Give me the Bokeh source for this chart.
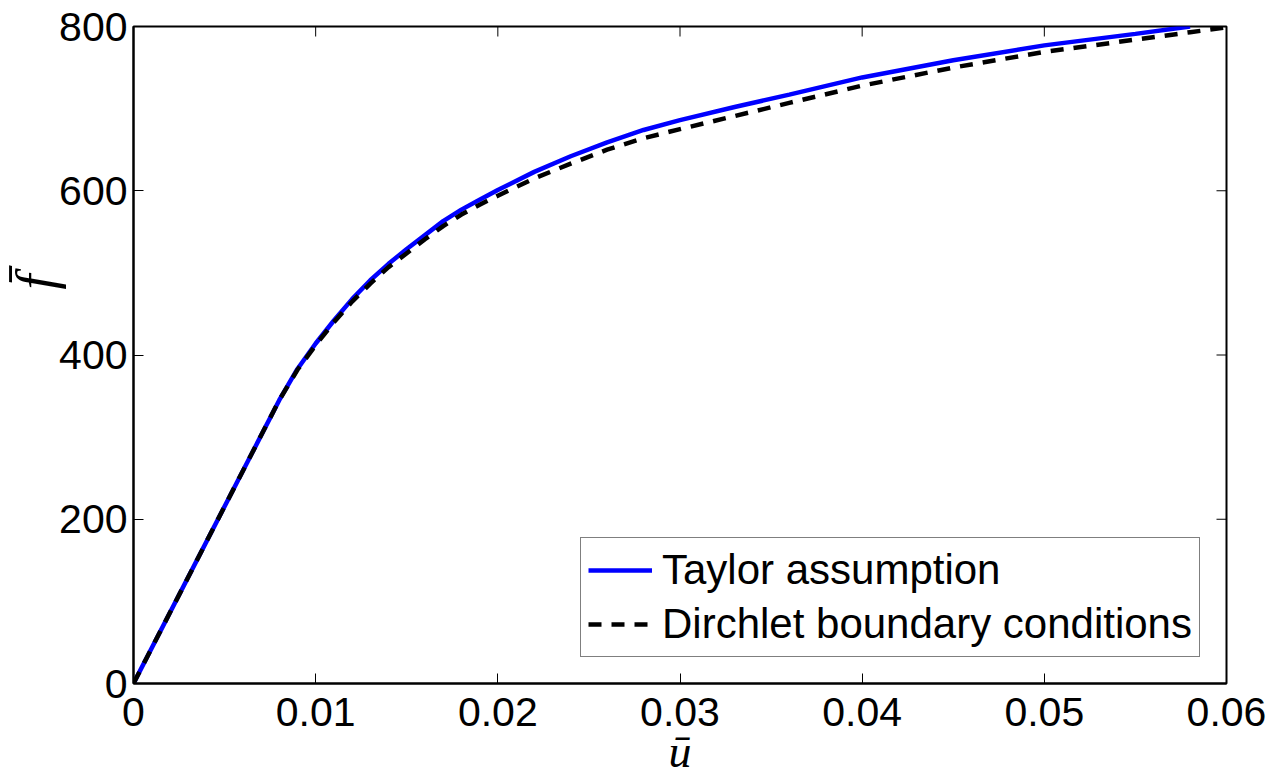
from bokeh.plotting import figure
from bokeh.models import FixedTicker, Legend, LegendItem, Range1d, Title
from bokeh.embed import file_html
from bokeh.resources import INLINE

# ---- data ----
u_taylor = [0, 0.008, 0.009, 0.01, 0.011, 0.012, 0.013, 0.014, 0.015, 0.016,
            0.017, 0.018, 0.019, 0.02, 0.022, 0.024, 0.026, 0.028, 0.03, 0.033,
            0.036, 0.04, 0.045, 0.05, 0.055, 0.058]
f_taylor = [0, 345, 383, 414, 442, 468, 491, 511, 529, 546,
            563, 577, 589, 601, 623, 642, 659, 674, 686, 702,
            717, 738, 759, 777, 791, 800]

u_dirichlet = [0, 0.008, 0.009, 0.01, 0.011, 0.012, 0.013, 0.014, 0.015, 0.016,
               0.017, 0.018, 0.019, 0.02, 0.022, 0.024, 0.026, 0.028, 0.03, 0.033,
               0.036, 0.04, 0.045, 0.05, 0.055, 0.058, 0.06]
f_dirichlet = [0, 345, 382, 412, 440, 465, 487, 507, 524, 541,
               557, 571, 583, 594, 615, 633, 650, 664, 675, 691,
               707, 728, 750, 769, 784, 793, 799]

x_ticks = [0, 0.01, 0.02, 0.03, 0.04, 0.05, 0.06]
x_tick_labels = ["0", "0.01", "0.02", "0.03", "0.04", "0.05", "0.06"]
y_ticks = [0, 200, 400, 600, 800]
y_tick_labels = ["0", "200", "400", "600", "800"]

series_names = ["Taylor assumption", "Dirchlet boundary conditions"]
x_label = "\u016b"          # u with macron
y_label = "f\u0304"          # f with combining macron

X_MIN, X_MAX = 0, 0.06
Y_MIN, Y_MAX = 0, 800
FRAME_W, FRAME_H = 1093, 657
TICK_PX = 10

FONT = "Liberation Sans"
TICK_SIZE = "41px"

p = figure(frame_width=FRAME_W, frame_height=FRAME_H,
           x_range=Range1d(X_MIN, X_MAX), y_range=Range1d(Y_MIN, Y_MAX),
           output_backend="svg", toolbar_location=None,
           min_border_left=133, min_border_top=26,
           min_border_right=44, min_border_bottom=94,
           background_fill_color="white", border_fill_color="white")

p.xgrid.visible = False
p.ygrid.visible = False
p.outline_line_color = "black"
p.outline_line_width = 2

def style_axis(ax, ticks, labels):
    ax.ticker = FixedTicker(ticks=ticks)
    ax.major_label_overrides = {t: l for t, l in zip(ticks, labels)}
    ax.minor_tick_line_color = None
    ax.major_tick_in = TICK_PX
    ax.major_tick_out = 0
    ax.major_tick_line_color = "black"
    ax.major_tick_line_width = 1
    ax.axis_line_color = "black"
    ax.axis_line_width = 2
    ax.major_label_text_font = FONT
    ax.major_label_text_color = "black"
    ax.major_label_text_font_size = TICK_SIZE

xax = p.xaxis[0]
yax = p.yaxis[0]
style_axis(xax, x_ticks, x_tick_labels)
style_axis(yax, y_ticks, y_tick_labels)
xax.major_label_standoff = 14
yax.major_label_standoff = 6

xax.axis_label = x_label
xax.axis_label_text_font = "Liberation Serif"
xax.axis_label_text_font_style = "italic"
xax.axis_label_text_font_size = "46px"
xax.axis_label_text_color = "black"
xax.axis_label_standoff = -3

# y label as a left title (allows vertical offset like the reference)
ytitle = Title(text=y_label, align="right", offset=248, standoff=-18,
               text_font="Liberation Serif", text_font_style="italic",
               text_font_size="54px", text_color="black")
p.add_layout(ytitle, "left")

# ticks on the top and right edges (mirror of the bottom/left ticks)
tick_len_y = TICK_PX * (Y_MAX - Y_MIN) / FRAME_H
tick_len_x = TICK_PX * (X_MAX - X_MIN) / FRAME_W
p.segment(x0=x_ticks, x1=x_ticks, y0=[Y_MAX] * len(x_ticks),
          y1=[Y_MAX - tick_len_y] * len(x_ticks), line_color="black", line_width=1)
p.segment(x0=[X_MAX] * len(y_ticks), x1=[X_MAX - tick_len_x] * len(y_ticks),
          y0=y_ticks, y1=y_ticks, line_color="black", line_width=1)

r1 = p.line(u_taylor, f_taylor, line_color="#0000ff", line_width=4.5)
r2 = p.line(u_dirichlet, f_dirichlet, line_color="black", line_width=4.5,
            line_dash="13 10")

legend = Legend(items=[LegendItem(label=series_names[0], renderers=[r1]),
                       LegendItem(label=series_names[1], renderers=[r2])],
                location=(447, 26), orientation="vertical")
legend.label_text_font = FONT
legend.label_text_font_size = "42px"
legend.label_text_color = "black"
legend.glyph_width = 64
legend.glyph_height = 50
legend.label_standoff = 10
legend.label_height = 50
legend.padding = 7
legend.spacing = 4
legend.margin = 0
legend.border_line_color = "black"
legend.border_line_width = 1
legend.background_fill_color = "white"
legend.background_fill_alpha = 1
p.add_layout(legend)

open("out.html", "w").write(file_html(p, INLINE))
